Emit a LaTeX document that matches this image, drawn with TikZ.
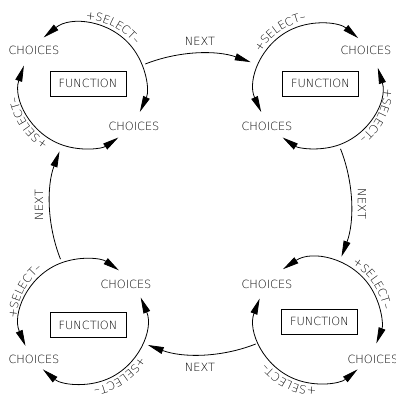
\documentclass[tikz,border=0pt]{standalone}
\usepackage{fontspec}
\setmainfont{DejaVu Sans ExtraLight}
\usetikzlibrary{arrows.meta,decorations.text}
\newcommand\lblfont{\fontsize{11.3bp}{13bp}\selectfont}
\newcommand\selarc[2]{%
  \path[decorate,decoration={text along path,text={|\lblfont|+SELECT–},text align=center,
      text effects/character widths={inner xsep=0.3bp}}]
    ([shift={(#2+32:66.5)}]#1) arc[start angle=#2+32,end angle=#2-32,radius=66.5];}
\begin{document}
\begin{tikzpicture}[x=1bp,y=1bp,line width=0.8bp,
  cadtip/.tip={Triangle[length=16bp,width=7bp]},
  dbl/.style={cadtip-cadtip},
  nxt/.style={-cadtip},
  lbl/.style={font=\lblfont,inner sep=0pt},
  fbox/.style={draw,line width=0.8bp,minimum width=76bp,minimum height=25bp,inner sep=0pt,font=\lblfont}]
\useasboundingbox (0,0) rectangle (396,394);
% circle centres
\coordinate (TL) at (83,308);
\coordinate (TR) at (318,308);
\coordinate (BL) at (83,72.5);
\coordinate (BR) at (318,73);
\coordinate (O) at (200.5,190);
% function boxes
\node[fbox] (fTL) at (88,310.5) {FUNCTION};
\node[fbox] (fTR) at (320.5,310.5) {FUNCTION};
\node[fbox] (fBL) at (88,69) {FUNCTION};
\node[fbox] (fBR) at (319.5,72.5) {FUNCTION};
% choices
\node[lbl] (cTLa) at (34,344) {CHOICES};
\node[lbl] (cTLb) at (134,268) {CHOICES};
\node[lbl] (cTRa) at (366,344) {CHOICES};
\node[lbl] (cTRb) at (267,268) {CHOICES};
\node[lbl] (cBLa) at (126,110) {CHOICES};
\node[lbl] (cBLb) at (34,35) {CHOICES};
\node[lbl] (cBRa) at (267,110) {CHOICES};
\node[lbl] (cBRb) at (373,35) {CHOICES};
% select arcs
\draw[dbl] ([shift={(129:62.5)}]TL) arc[start angle=129,end angle=-24.5,radius=62.5];
\draw[dbl] ([shift={(161:62.5)}]TL) arc[start angle=161,end angle=304.5,radius=62.5];
\draw[dbl] ([shift={(204.6:62.5)}]TR) arc[start angle=204.6,end angle=50,radius=62.5];
\draw[dbl] ([shift={(17:62.5)}]TR) arc[start angle=17,end angle=-124.5,radius=62.5];
\draw[dbl] ([shift={(203:62.5)}]BL) arc[start angle=203,end angle=55,radius=62.5];
\draw[dbl] ([shift={(22.6:62.5)}]BL) arc[start angle=22.6,end angle=-130,radius=62.5];
\draw[dbl] ([shift={(124:62.5)}]BR) arc[start angle=124,end angle=-21,radius=62.5];
\draw[dbl] ([shift={(159:62.5)}]BR) arc[start angle=159,end angle=309.4,radius=62.5];
% select labels
\selarc{TL}{63}
\selarc{TL}{214}
\selarc{TR}{125}
\selarc{TR}{-27}
\selarc{BL}{153}
\selarc{BL}{-56}
\selarc{BR}{34.5}
\selarc{BR}{244}
% next connectors
\draw[nxt] ([shift={(111.5:150.5)}]O) arc[start angle=111.5,end angle=70.5,radius=150.5];
\draw[nxt] ([shift={(21.5:150.5)}]O) arc[start angle=21.5,end angle=-20.5,radius=150.5];
\draw[nxt] ([shift={(-68.5:150.5)}]O) arc[start angle=-68.5,end angle=-110.5,radius=150.5];
\draw[nxt] ([shift={(201.5:150.5)}]O) arc[start angle=201.5,end angle=159.5,radius=150.5];
\node[lbl] (nT) at (200,353) {NEXT};
\node[lbl,rotate=-90] (nR) at (362,190) {NEXT};
\node[lbl] (nB) at (200,27) {NEXT};
\node[lbl,rotate=90] (nL) at (39,189) {NEXT};
\end{tikzpicture}
\end{document}
